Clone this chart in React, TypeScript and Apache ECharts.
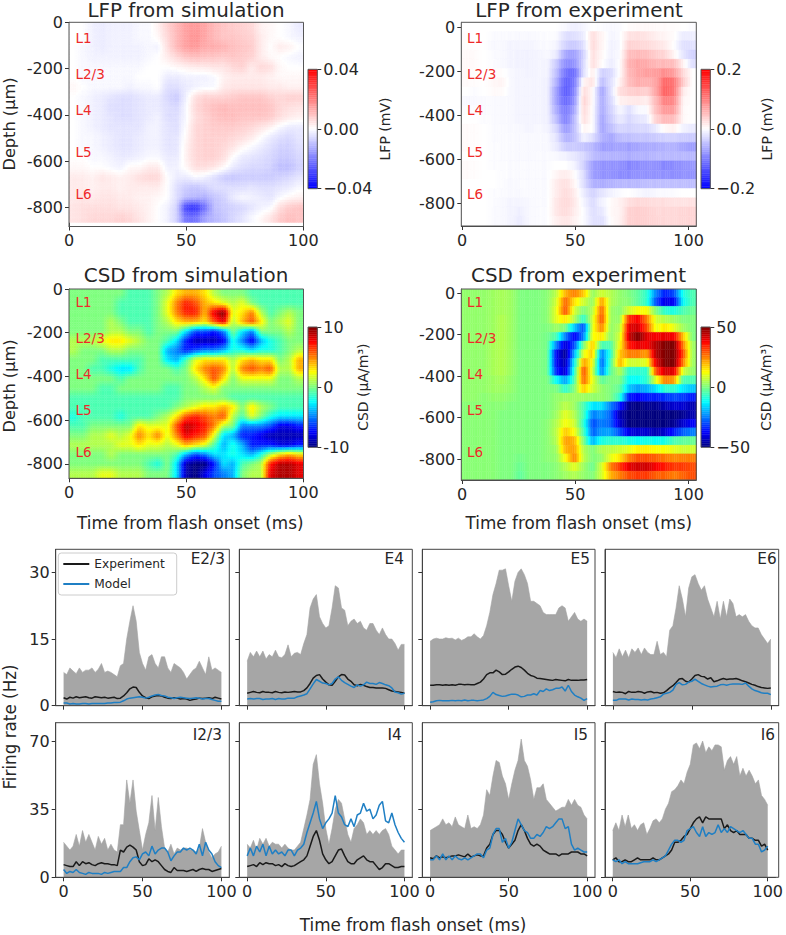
import React, { useEffect, useRef } from "react";
import * as echarts from "echarts";

const FONT = '"DejaVu Sans"';
const INK = "#262626";
const TIME = Array.from({ length: 51 }, (_, i) => i * 2);
const BWR = ["#0000ff", "#ffffff", "#ff0000"];
const JET = ["#00007f", "#0000ff", "#007fff", "#00ffff", "#7fff7f", "#ffff00", "#ff7f00", "#ff0000", "#7f0000"];
const LAYERS = ["L1", "L2/3", "L4", "L5", "L6"];

const lfpSim = [
  [0,0,-2,-3,-2,-2,-2,-1,-1,2,7,11,15,16,14,11,9,8,7,6,2,1,0,-1,-3],
  [0,0,-2,-3,-2,-2,-2,-1,-1,1,6,11,15,17,14,11,9,9,8,7,3,1,0,-1,-2],
  [0,-1,-2,-3,-2,-2,-2,-2,-1,-2,5,11,15,16,13,13,12,10,9,8,3,0,3,2,0],
  [0,-1,-2,-2,-2,-2,-2,-2,-1,0,3,6,9,10,9,9,8,9,8,7,3,1,0,-1,-2],
  [0,-1,-1,-1,-1,-1,-1,-1,0,0,0,1,2,3,3,4,4,6,7,3,6,5,1,0,0],
  [0,-1,-1,-1,-1,-1,-1,0,0,0,-3,-3,-2,-2,-2,-1,2,3,3,3,3,2,1,1,1],
  [1,0,-1,-1,-1,-1,-2,-1,-1,0,-5,-5,-3,-2,-1,-1,3,4,4,4,4,3,3,2,2],
  [0,-1,-2,-3,-4,-5,-5,-4,-3,-3,-6,-8,-2,5,7,7,7,8,9,9,9,7,6,7,7],
  [0,-1,-2,-3,-5,-5,-5,-4,-3,-3,-5,-6,-1,6,8,10,11,10,10,10,10,9,6,5,4],
  [0,-1,-2,-3,-4,-5,-5,-4,-3,-2,-5,-5,-1,5,7,9,10,10,9,9,9,8,5,3,2],
  [0,-1,-2,-3,-4,-4,-4,-4,-2,-2,-4,-5,0,6,7,8,8,8,7,6,4,2,-1,-3,-3],
  [0,-1,-1,-2,-3,-4,-4,-3,-2,-2,-4,-4,1,6,7,7,7,6,5,3,0,-3,-5,-6,-4],
  [0,-1,-1,-2,-3,-4,-4,-3,-2,-2,-4,-4,2,6,7,7,6,4,1,-1,-3,-5,-7,-7,-5],
  [0,0,-1,-1,-2,-3,-3,-2,-1,-1,-3,-3,2,6,7,7,5,0,-3,-4,-5,-6,-8,-8,-6],
  [1,1,0,0,-1,-2,1,1,3,3,-2,-2,1,5,5,4,1,-3,-5,-6,-6,-7,-10,-10,-7],
  [3,3,2,4,3,2,3,5,6,6,0,-3,-3,-1,-2,-5,-8,-9,-8,-8,-8,-8,-7,-6,-4],
  [3,3,2,3,3,2,3,3,3,3,0,-5,-8,-9,-7,-5,-5,-5,-5,-4,-5,-5,-4,-3,-1],
  [3,4,3,4,4,3,3,2,2,1,0,-5,-10,-11,-12,-9,-7,-3,-1,-2,-3,-4,-1,1,2],
  [4,5,5,5,5,4,4,3,2,0,-2,-7,-30,-32,-22,-10,-8,-7,-6,-4,-2,-1,5,8,9],
  [4,5,6,6,6,7,6,4,2,0,-2,-7,-22,-22,-14,-11,-9,-6,-4,-1,1,4,8,10,9],
];

const lfpExp = [
  [0,0,0,0,0,0,0,0,0,0,0,-5,-12,-8,0,-2,-5,-3,2,5,5,4,3,2,0,-2],
  [2,0,0,-3,-3,-3,-5,-5,-3,-2,-3,-25,-25,-15,25,8,-8,-3,22,25,20,12,8,2,-15,-12],
  [2,0,0,-5,-5,-8,-8,-8,-5,-3,-8,-35,-42,-25,28,8,-10,-5,35,32,28,22,15,0,-25,-22],
  [5,3,0,-3,-5,-8,-10,-10,-8,-5,-15,-70,-75,-35,25,5,-10,-3,50,55,50,38,30,8,-20,-35],
  [5,3,0,-2,-5,-8,-10,-10,-8,-8,-40,-90,-85,-30,25,3,-15,0,60,70,65,55,55,50,10,-25],
  [5,2,0,2,2,-5,-8,-10,-8,-8,-50,-110,-115,-25,15,-35,-30,2,55,70,75,75,90,75,30,0],
  [3,2,0,5,8,-5,-8,-8,-8,-10,-60,-125,-105,8,22,-50,-25,10,50,65,60,70,120,105,40,0],
  [0,-3,0,3,3,-5,-8,-8,-8,-10,-75,-130,-95,28,5,-70,-25,25,35,40,35,70,125,105,15,0],
  [-5,-5,-3,-3,-5,-5,-8,-8,-8,-10,-75,-120,-85,35,3,-65,-30,10,15,18,12,55,100,90,8,0],
  [-2,-2,-3,-3,-5,-5,-8,-8,-8,-10,-65,-105,-70,30,0,-65,-35,-5,-25,-5,-3,50,80,75,5,0],
  [0,0,-2,-3,-5,-5,-8,-8,-8,-10,-50,-100,-55,25,0,-70,-40,-15,-30,-20,-15,35,55,50,5,0],
  [3,2,0,-3,-3,-5,-5,-8,-5,-8,-30,-80,-50,8,0,-70,-50,-30,-35,-30,-30,-15,5,10,-10,-15],
  [3,2,0,-3,-3,-3,-5,-5,-5,-5,-20,-60,-50,-10,-25,-60,-70,-50,-50,-45,-45,-40,-35,-35,-40,-40],
  [3,2,0,-2,-3,-3,-5,-5,-5,-5,-15,-40,-40,-45,-55,-75,-75,-70,-75,-70,-65,-65,-60,-60,-70,-75],
  [0,0,0,-2,-3,-3,-5,-5,-3,-3,-5,-10,-18,-30,-50,-60,-60,-60,-65,-60,-60,-55,-55,-55,-55,-55],
  [3,2,0,-2,-2,-3,-3,-3,-3,-3,0,0,-8,-35,-75,-85,-85,-85,-95,-90,-85,-85,-95,-90,-85,-80],
  [3,2,0,0,-2,-3,-3,-3,-3,-3,8,15,2,-25,-75,-85,-85,-90,-90,-85,-85,-85,-85,-90,-85,-85],
  [0,0,0,0,-2,-5,-3,-3,-3,-3,15,25,8,-25,-60,-65,-60,-55,-55,-55,-50,-50,-50,-50,-50,-50],
  [0,0,0,-2,-3,-5,-5,-3,-3,-3,15,28,15,-15,-35,-20,-10,-3,0,-5,-8,-5,-3,-3,0,0],
  [0,0,0,-2,-5,-8,-8,-5,-3,-3,18,30,18,-8,-28,-10,3,10,25,30,28,25,25,22,22,22],
  [0,0,0,-3,-5,-8,-12,-5,-3,-2,18,28,15,-3,-25,-18,5,8,35,38,35,30,30,30,32,32],
  [0,0,0,-3,-5,-8,-15,-5,-3,-2,12,20,10,-3,-22,-25,2,10,35,38,35,32,30,30,32,32],
];

const csdSim = [
  [0,0,0,0,0,0,-1,-1,-1,0,1,3,4,4,3,1,0,0,0,-1,-1,-1,-1,-1,-1],
  [0,0,0,0,0,-1,-1,-1,-1,0,2,5,7,6,4,3,2,1,2,0,-1,-1,-1,-1,-1],
  [0,0,0,0,0,-1,-1,-1,-1,0,2,5,7,7,4,8,10,2,3,5,1,-1,0,1,0],
  [0,0,0,0,1,0,-1,-1,-1,0,1,3,4,4,3,6,8,1,4,6,3,0,1,2,0],
  [0,0,0,0,1,1,0,0,-1,0,0,0,-3,-6,-6,-7,-5,0,-3,-5,0,0,0,1,0],
  [1,1,1,2,3,3,2,1,0,0,-1,-3,-7,-9,-9,-9,-8,-2,-5,-8,-4,-2,-1,0,0],
  [1,0,0,0,1,1,0,0,0,0,-4,-5,-7,-6,-5,-5,-4,-2,-2,-3,-2,-2,-1,0,1],
  [0,0,0,-1,-1,-1,-1,-1,0,0,-3,-4,-1,2,3,3,3,1,3,4,3,3,0,1,4],
  [0,0,-1,-1,-2,-3,-3,-1,0,0,0,-1,0,3,5,6,5,1,5,6,5,6,1,1,4],
  [0,0,0,0,0,-1,0,0,0,0,0,0,0,1,3,6,3,0,2,2,2,2,0,0,1],
  [0,0,0,-1,-1,0,0,0,0,0,-1,-1,0,0,1,2,0,0,0,0,0,0,0,0,0],
  [-1,-1,-1,-1,-1,-1,-1,-1,-1,-1,-1,-1,0,0,0,0,0,-1,-1,-1,-1,-1,-1,-1,-1],
  [-1,-1,-1,-1,-1,-1,-1,-1,-1,-1,-1,0,1,2,3,3,4,3,0,3,1,0,-1,-1,-1],
  [-2,-1,-1,-1,-1,-2,-1,-1,-1,0,1,3,6,7,6,5,6,1,-1,2,0,-2,-3,-3,-3],
  [-1,-1,0,0,0,0,0,3,2,2,2,6,9,8,7,5,1,0,-5,-5,-5,-6,-8,-8,-7],
  [0,0,1,1,2,1,2,5,3,5,2,5,8,7,6,2,-3,-4,-7,-7,-8,-9,-9,-9,-9],
  [1,1,1,1,1,2,2,3,2,2,1,2,4,3,2,-1,-4,-2,-4,-7,-7,-7,-8,-8,-7],
  [0,0,0,0,1,0,0,0,0,0,0,-1,-4,-6,-5,-3,-3,-2,-3,-4,-2,1,3,4,3],
  [0,0,0,0,0,0,0,0,-1,-2,0,-3,-9,-10,-10,-7,-3,-4,-1,0,1,7,9,9,8],
  [1,1,1,2,2,1,1,1,0,0,0,-3,-9,-10,-8,-6,-5,-4,0,1,1,8,9,9,8],
];

const csdExp = [
  [2,2,2,3,4,3,0,0,0,1,6,20,25,18,2,8,5,2,0,-3,-8,-25,-35,-30,-10,-5],
  [2,2,2,3,4,3,0,0,0,1,8,28,15,8,2,22,5,2,1,-3,-8,-30,-40,-38,-12,-5],
  [2,2,2,3,4,3,0,0,0,1,10,30,8,0,5,28,3,1,8,12,12,0,-8,-10,-5,-2],
  [2,2,2,3,5,3,0,0,0,1,10,15,5,-8,8,30,3,2,33,38,25,8,5,3,0,0],
  [2,2,2,3,5,3,0,0,0,0,3,0,-18,-30,10,25,2,5,40,42,30,10,15,10,3,0],
  [2,2,2,3,5,3,0,0,0,-1,-5,-25,-38,-25,12,15,1,8,42,50,40,38,40,38,18,0],
  [2,2,2,4,5,3,0,0,0,-1,-25,-42,-30,0,18,-5,-5,12,35,40,38,45,50,50,25,3],
  [2,2,2,4,5,3,0,0,0,-1,-38,-48,-20,10,18,-25,-8,18,25,25,22,45,50,50,30,3],
  [2,2,2,4,5,3,0,0,0,-1,-38,-45,-12,22,12,-28,-5,20,8,8,10,40,50,50,25,3],
  [2,2,2,4,5,3,0,0,0,-1,-35,-42,-8,30,8,-25,-3,5,-8,-8,-8,30,42,40,8,2],
  [2,2,2,3,4,2,0,0,0,0,-12,-22,-5,28,10,-3,0,0,-12,-12,-8,10,25,22,-5,-5],
  [2,2,2,3,3,2,0,0,0,0,0,-8,0,18,8,2,0,-3,-18,-22,-20,-15,-8,-8,-15,-18],
  [2,2,1,2,2,1,0,0,0,0,2,3,3,3,2,2,0,-8,-35,-38,-35,-35,-33,-30,-32,-35],
  [1,1,1,1,1,0,0,0,0,0,2,6,3,-5,-15,-15,-25,-35,-48,-50,-48,-48,-45,-42,-42,-45],
  [1,1,1,1,0,0,0,0,0,0,3,10,5,-5,-25,-22,-28,-45,-50,-50,-50,-50,-50,-50,-48,-45],
  [1,1,1,1,0,0,0,0,0,1,5,12,8,-8,-30,-25,-28,-42,-50,-50,-50,-50,-50,-48,-42,-38],
  [1,1,1,1,0,0,0,0,0,1,6,18,12,-5,-28,-22,-22,-30,-40,-42,-42,-45,-42,-35,-28,-25],
  [1,1,1,1,0,0,0,0,0,1,5,22,20,0,-20,-10,-8,-8,-10,-12,-10,-12,-10,-5,-3,-2],
  [1,1,1,1,0,0,0,0,0,1,3,20,22,5,0,5,6,8,10,14,14,12,12,10,8,8],
  [1,1,1,1,0,0,-1,0,0,1,2,12,25,6,0,2,10,15,25,30,30,28,26,24,25,25],
  [1,1,1,1,0,0,-2,0,0,0,1,5,10,3,-2,8,25,32,40,42,42,38,35,32,32,30],
  [1,1,1,1,0,0,-3,0,0,0,1,3,5,2,0,8,20,25,30,32,32,28,28,25,28,30],
];

const e23Band = [7.5,7,8.5,7.8,7.2,8.5,7.5,8,8,8.5,7.5,8.2,9.5,7.5,7.8,7.5,7,6.5,9,9.5,15,19,22.5,19,12,9.5,8,11,11.5,9.5,8.5,11,11,8.5,7.5,9.5,9,8.5,7.5,6,7,8,8.5,10,8.5,7,11,8,8.5,8,7.5];
const e23Exp = [1.8,1.5,1.9,1.7,2,1.8,1.9,2,1.8,1.7,2,1.9,1.8,1.9,1.7,1.8,1.9,1.6,1.7,2.2,2.9,3.8,4.2,4.1,3,2.2,1.8,1.6,2,2.2,2.3,2.2,1.9,1.7,1.6,1.8,1.7,1.5,1.6,1.5,1.2,1.4,1.5,1.7,1.6,1.7,1.8,1.6,1.9,1.7,1.5];
const e23Model = [.6,.6,.4,.5,.4,.4,.5,.5,.4,.5,.5,.5,.5,.5,.6,.6,.7,.7,.8,1.1,1.5,1.7,1.8,1.9,2,1.9,1.7,1.9,2.2,2.4,2.5,2.3,2.2,1.9,1.8,1.6,1.8,1.9,1.8,1.7,1.6,1.7,1.8,1.7,1.5,1.6,1.6,1.4,1.2,1,1];
const e4Band = [10,12,11,12.3,11,12.3,10.5,11.5,11,12.5,11,10.8,11.5,13.7,11,11.8,12,11.5,14,16,22,24,25,20,18.5,17.5,18,22,27,26.5,22,21.5,18,19,19.5,18.5,19,17.5,17,18.5,18.5,17,16,17.5,16,15,15,14,12.5,13.8,13.8];
const e4Exp = [2.8,3,3.2,3,2.9,3.2,3,3,2.9,3.2,3,2.9,3.1,3,3.1,3.2,3.1,3.1,3.4,4,5,6.2,6.8,7,6,5.3,4.7,4.6,5.5,6.5,7,6.9,6,5.5,4.7,4.5,4.8,4.6,4.3,4.1,4.1,4,4,4,3.9,3.6,3.3,3.2,3.1,3,2.8];
const e4Model = [1.5,1.6,1.5,1.6,1.6,1.4,1.5,1.5,1.6,1.4,1.6,1.5,1.5,1.7,1.7,1.7,2,2.2,2.4,2.7,3.8,4.9,5.9,5.5,5.1,5,4.7,5,6,6.5,5.7,5.2,4.8,4.4,4.1,4.7,4.4,4.7,5.3,5,5,4.8,5.2,5,4.7,4.5,4,3.1,2.9,2.6,2.8];
const e5Band = [14.5,15,15.2,15,15,15.3,15.1,15.2,14.8,15.2,14.7,15,15.5,15.5,16.2,15.5,15,15.8,18,21,25,27.5,30.5,30.5,30.8,27,23.5,28,30,30.8,29.5,27.5,23.5,23.5,23,22.5,21,20.5,20.5,20.5,20.5,22,22.5,22,19,20,21,19.5,19,19.5,19];
const e5Exp = [4.6,4.6,4.7,4.7,4.6,4.7,4.6,4.7,4.6,4.8,4.8,4.7,4.8,4.7,4.7,5,5.3,6,7,7.4,7.4,8,7.6,7,7.1,7.6,8.2,8.7,8.9,8.6,8,7.3,6.8,6.6,6.2,6.1,6,5.9,5.8,5.7,5.9,5.8,5.7,5.6,5.9,5.7,5.7,5.7,5.8,5.8,5.9];
const e5Model = [.8,.9,1.1,1.2,1.1,1.1,1.1,1.2,1.1,1.2,1.1,1.3,1.1,1.2,1.2,1.1,1.2,1.3,1.6,2.1,3,2.5,2.3,2.1,2.2,2.4,2.6,2.6,2.4,2,2.1,2.4,2.4,2.7,2.4,3.4,3.2,3.8,3.4,3.6,3.9,3.9,4.2,3.3,4.6,3.2,2.4,2,1.7,1.2,1.6];
const e6Band = [12,10.8,12.8,11,12.5,10.8,12.8,12,13,11.5,13,12,11.5,11.5,14.5,11.5,12,11,17,18,22,27,24,20,26.5,29,29.5,27.5,26,27,24,22,20,23.5,19.5,23.5,20,24,23,20,20.5,20,20.5,19,18,17.5,17.5,16,15,14,15];
const e6Exp = [3.2,3,3.1,3,2.7,3.2,3,3,3.2,3.1,2.8,3.1,3.2,2.9,3,2.8,2.9,3.4,4,4.5,5.2,6,6.1,5.5,5.3,6,6.8,7,6.6,6.5,6,6.3,5.4,5.6,5.9,6.1,5.9,6,6,6.1,5.9,5.6,5.4,5.1,4.8,4.6,4.3,4.1,4,3.9,4];
const e6Model = [1.2,1.2,1.5,1.5,1.5,1.3,1.5,1.4,1.4,1.3,1.4,1.3,1.5,1.6,1.8,2,2.6,2.8,3,3.5,4.8,5.2,4.7,4.8,5.3,5.5,6,5.5,5,4.7,4.4,4.2,4.3,4.4,4.7,4.8,4.6,4.8,4.9,4.9,4.9,4.8,5.1,4.4,3.8,3.4,3.2,2.9,2.8,2.8,2.5];
const i23Band = [18,16,14,16,22,16,24,18,22,18,14,21,17,20,14,17,14,13,27,27,50,38,50,34,24,14,22,28,42,24,41,26,15,13,17,12,15,14,15,15,14,14,13,15,25,18,13,10,12,13,16];
const i23Exp = [6.5,6,5.5,5.5,8,6,8,7,7.5,6.5,6,7,7.5,7,7,6.5,6.5,6,14,13,15.5,16.5,15.5,14,8,6,6.5,9.5,8,9,8,6,4,3,2.5,5,3.5,3.5,3.5,3,3.5,4,3,4,4.5,4,4,3,3.5,4,4.5];
const i23Model = [4,2,3,2.5,4,2.5,2,1.5,2.5,2,2,2,1.5,2.5,2,2.5,3,3,3,5,5,8,10,10.5,9,12,13,11,16,12,14,15,15,13,8.5,11,13,13,15,14,15,14,12,17,11,18,14,12,8,6,5];
const i4Band = [17,15,19,14,20,17,20,16,18,17,17,15,17,15,14,14,16,18,25,32,40,58,63,48,38,25,17,25,35,40,38,30,22,18,25,27,30,28,22,24,22,24,22,24,25,22,16,14,12,14,14];
const i4Exp = [5.5,6,6.5,5.5,7.5,6.5,7.5,7,7,6,6.5,5.5,7,6,5.5,6,7,8,9,11,16,21,24,19,12,9,7,8,11,14,14.5,11,8,7,7,9,10,11,9,8,8,6,4,5,7,7,6,5,5,5.5,5.5];
const i4Model = [11,15,11,16,13,17,11,16,12,14,12,13,11,14,14,11,14,15,17,23,28,33,39,30,25,28,30,33,42,33,31,27,26,30,26,32,33,38,34,35,30,32,37,39,29,28,33,27,23,20,18];
const i5Band = [24,25,26,27,30,27,28,26,31,27,26,25,32,25,26,25,27,32,45,42,52,60,59,52,48,40,48,55,60,71,60,57,50,40,46,46,48,40,38,36,34,35,36,36,40,37,40,37,36,32,30];
const i5Exp = [10,9.5,11,10,10.5,10,10.5,11,11,11.5,11,10.5,12,10.5,11,11.5,11,11,15,17,22,24,24,22,18,15,17,19,24,27,24,20,17,16,17,16,14,13,12,12,12,11,12,12,12,13,13,13,12,12,11];
const i5Model = [9,9,11,9,12,9,11,9,11,9.5,9,10,9,10,11,12,12,10,14,15,22,25,25,18,20,15,18,24,30,27,24,23,20,20,22,21,23,26,25,26,28,30,30,25,26,17,14,15,14,13,13];
const i6Band = [24,28,24,32,26,32,25,27,24,27,28,22,25,29,30,28,30,35,38,44,45,47,50,48,54,58,68,69,66,70,64,67,65,68,68,67,55,60,62,58,62,52,56,52,55,52,48,50,42,40,37];
const i6Exp = [9,10,8,8,9,8,8,9,10,9,9,9,9,10,9,9,10,11,12,14,18,18,19,21,22,25,28,30,31,28,31,30,30,30,30,30,25,27,24,23,24,22,22,22,20,20,19,19,16,17,14];
const i6Model = [9,8,9,7,8,7,7,7,7,7.5,8,8,8,9,8,9,10,11,14,17,19,19,18,19,24,25,26,23,21,26,21,23,22,23,27,23,25,23,26,25,24,23,24,22,20,20,17,17,13,14,16];

const heatPanels = [
  { title: "LFP from simulation", cx: 186, ty: 0, matrix: lfpSim, vmax: 40, colors: BWR, nx: 4, ny: 4, box: [69, 22.3, 234.5, 204.2], xMin: -0.05, xMax: 100.05, yMin: -883, yMax: 0, x0: 0, dx: 4, yTop: 0, dy: 43.3, yLabel: "Depth (μm)", yLabelY: 124, xLabel: "", xGap: 36, xPad: 0, layerX: 75.5, layerY: [38, 74, 110, 152, 194], cbBox: [308, 69.3, 9.3, 119.4], cbRange: 0.04, cbTicks: [-0.04, 0, 0.04], cbFmt: (v: number) => (v === 0 ? "0.00" : v < 0 ? "−0.04" : "0.04"), cbName: "LFP (mV)", cbGap: 61 },
  { title: "LFP from experiment", cx: 579, ty: 0, matrix: lfpExp, vmax: 200, colors: BWR, nx: 4, ny: 1, box: [461.3, 22.3, 235, 203.7], xMin: -0.3, xMax: 103.4, yMin: -902, yMax: 24, x0: -0.3, dx: 4, yTop: 24, dy: 42, yLabel: "", yLabelY: 0, xLabel: "", xGap: 36, xPad: 0, layerX: 467, layerY: [38, 74, 110, 152, 194], cbBox: [701, 69.3, 9.3, 119.4], cbRange: 0.2, cbTicks: [-0.2, 0, 0.2], cbFmt: (v: number) => (v === 0 ? "0.0" : v < 0 ? "−0.2" : "0.2"), cbName: "LFP (mV)", cbGap: 50 },
  { title: "CSD from simulation", cx: 186, ty: 265, matrix: csdSim, vmax: 10, colors: JET, nx: 4, ny: 4, box: [69, 289, 234.5, 189.3], xMin: -0.05, xMax: 100.05, yMin: -866, yMax: 0, x0: 0, dx: 4, yTop: 0, dy: 43.3, yLabel: "Depth (μm)", yLabelY: 386, xLabel: "Time from flash onset (ms)", xGap: 36, xPad: 8, layerX: 75.5, layerY: [302, 338, 374, 410, 452], cbBox: [308, 327, 9.3, 120.3], cbRange: 10, cbTicks: [-10, 0, 10], cbFmt: (v: number) => String(v), cbName: "CSD (μA/m³)", cbGap: 39 },
  { title: "CSD from experiment", cx: 578.5, ty: 265, matrix: csdExp, vmax: 50, colors: JET, nx: 4, ny: 1, box: [461.3, 289, 235, 191], xMin: -0.3, xMax: 103.4, yMin: -900, yMax: 20, x0: -0.3, dx: 4, yTop: 20, dy: 41.8, yLabel: "", yLabelY: 0, xLabel: "Time from flash onset (ms)", xGap: 34, xPad: 0, layerX: 467, layerY: [302, 338, 374, 410, 452], cbBox: [701, 327, 9.3, 120.3], cbRange: 50, cbTicks: [-50, 0, 50], cbFmt: (v: number) => (v < 0 ? "−50" : String(v)), cbName: "CSD (μA/m³)", cbGap: 49 },
];

const COLUMNS = [[55.7, 173.6], [239.3, 173], [422.3, 172.7], [605, 173.7]];
const ROWS = [{ top: 549.3, h: 156.4, yMax: 35.2, ticks: [0, 15, 30] }, { top: 722.7, h: 154.6, yMax: 79.4, ticks: [0, 35, 70] }];

const ratePanels = [
  { label: "E2/3", col: 0, row: 0, labelRight: 225, band: e23Band, exp: e23Exp, model: e23Model },
  { label: "E4", col: 1, row: 0, labelRight: 404, band: e4Band, exp: e4Exp, model: e4Model },
  { label: "E5", col: 2, row: 0, labelRight: 590, band: e5Band, exp: e5Exp, model: e5Model },
  { label: "E6", col: 3, row: 0, labelRight: 776.7, band: e6Band, exp: e6Exp, model: e6Model },
  { label: "I2/3", col: 0, row: 1, labelRight: 222, band: i23Band, exp: i23Exp, model: i23Model },
  { label: "I4", col: 1, row: 1, labelRight: 401.7, band: i4Band, exp: i4Exp, model: i4Model },
  { label: "I5", col: 2, row: 1, labelRight: 588, band: i5Band, exp: i5Exp, model: i5Model },
  { label: "I6", col: 3, row: 1, labelRight: 775, band: i6Band, exp: i6Exp, model: i6Model },
];

// Draws a matrix of values like imshow: each read value is a cell, shaded towards its neighbours.
function cellSeries(matrix: number[][], x0: number, dx: number, yTop: number, dy: number, vmax: number, colors: string[], nx: number, ny: number, g: number) {
  const rows = matrix.length, cols = matrix[0].length;
  const data: number[][] = [];
  matrix.forEach((row, r) => row.forEach((v, c) => data.push([x0 + c * dx, yTop - r * dy, v])));
  const sample = (fr: number, fc: number) => {
    const r = Math.max(0, Math.min(rows - 1, fr)), c = Math.max(0, Math.min(cols - 1, fc));
    const r0 = Math.floor(r), c0 = Math.floor(c);
    const r1 = Math.min(rows - 1, r0 + 1), c1 = Math.min(cols - 1, c0 + 1);
    const u = c - c0, w = r - r0;
    const top = matrix[r0][c0] * (1 - u) + matrix[r0][c1] * u;
    const bot = matrix[r1][c0] * (1 - u) + matrix[r1][c1] * u;
    return top * (1 - w) + bot * w;
  };
  const colorAt = (v: number) => echarts.color.lerp(Math.max(0, Math.min(1, (v / vmax + 1) / 2)), colors) as string;
  return {
    type: "custom",
    coordinateSystem: "cartesian2d",
    xAxisIndex: g,
    yAxisIndex: g,
    clip: true,
    silent: true,
    z: 2,
    dimensions: ["x", "y", "v"],
    encode: { x: 0, y: 1 },
    data,
    renderItem: (params: any, api: any) => {
      const i = params.dataIndex;
      const r = Math.floor(i / cols), c = i % cols;
      const a = api.coord([api.value(0), api.value(1)]);
      const b = api.coord([api.value(0) + dx, api.value(1) - dy]);
      const w = (b[0] - a[0]) / nx, h = (b[1] - a[1]) / ny;
      const children: any[] = [];
      for (let iy = 0; iy < ny; iy++) {
        for (let ix = 0; ix < nx; ix++) {
          const fc = nx === 1 ? c : c + (ix + 0.5) / nx - 0.5;
          const fr = ny === 1 ? r : r + (iy + 0.5) / ny - 0.5;
          const col = colorAt(sample(fr, fc));
          children.push({
            type: "rect",
            shape: { x: a[0] + ix * w, y: a[1] + iy * h, width: w, height: h },
            style: { fill: col, stroke: col, lineWidth: 0.4 },
          });
        }
      }
      return { type: "group", children };
    },
  };
}

function buildOption() {
  const grid: any[] = [], xAxis: any[] = [], yAxis: any[] = [], series: any[] = [], graphic: any[] = [], title: any[] = [];
  const tick = { show: true, length: 4, lineStyle: { color: "#333", width: 1 } };
  const line = { show: true, onZero: false, lineStyle: { color: "#444", width: 1 } };
  const lab = { color: INK, fontFamily: FONT, fontSize: 16, margin: 6 };
  const xLab = { ...lab, alignMinLabel: "center", alignMaxLabel: "center" };
  const nameStyle = { color: INK, fontFamily: FONT, fontSize: 16.8 };
  const frame = (b: number[], color: string) =>
    graphic.push({ type: "rect", z: 50, silent: true, shape: { x: b[0], y: b[1], width: b[2], height: b[3] }, style: { fill: "none", stroke: color, lineWidth: 1 } });
  const vertical = (text: string, x: number, y: number, size: number) =>
    graphic.push({ type: "text", z: 60, silent: true, rotation: Math.PI / 2, x, y, style: { text, x: 0, y: 0, fill: INK, font: `${size}px ${FONT}`, align: "center", textAlign: "center", verticalAlign: "middle", textVerticalAlign: "middle" } });

  heatPanels.forEach((p) => {
    title.push({ text: p.title, left: p.cx, top: p.ty, textAlign: "center", padding: 0, textStyle: { color: INK, fontFamily: FONT, fontSize: 19.9, fontWeight: "normal" } });
    const g = grid.length;
    grid.push({ left: p.box[0], top: p.box[1], width: p.box[2], height: p.box[3] });
    const xv = [0, 50, 100];
    const yv = [0, -200, -400, -600, -800];
    xAxis.push({
      gridIndex: g, type: "value", min: p.xMin, max: p.xMax, splitLine: { show: false }, axisLine: line,
      axisTick: { ...tick, customValues: xv }, axisLabel: { ...xLab, customValues: xv },
      name: p.xLabel, nameLocation: "middle", nameGap: p.xGap, nameTextStyle: { ...nameStyle, padding: [0, 0, 0, p.xPad] },
    });
    yAxis.push({
      gridIndex: g, type: "value", min: p.yMin, max: p.yMax, splitLine: { show: false }, axisLine: line,
      axisTick: { ...tick, customValues: yv }, axisLabel: { ...lab, customValues: yv },
    });
    if (p.yLabel) vertical(p.yLabel, 9.5, p.yLabelY, 16.2);
    series.push(cellSeries(p.matrix, p.x0, p.dx, p.yTop, p.dy, p.vmax, p.colors, p.nx, p.ny, g));
    frame(p.box, "#555");
    LAYERS.forEach((name, i) =>
      graphic.push({ type: "text", z: 60, silent: true, style: { text: name, x: p.layerX, y: p.layerY[i], fill: "#ee2a2a", font: `13.5px ${FONT}`, verticalAlign: "middle", textVerticalAlign: "middle" } })
    );
    // colour bar: a small grid of its own, with a real axis
    const cb = grid.length;
    grid.push({ left: p.cbBox[0], top: p.cbBox[1], width: p.cbBox[2], height: p.cbBox[3] });
    xAxis.push({ gridIndex: cb, type: "value", min: 0, max: 1, show: false });
    yAxis.push({
      gridIndex: cb, type: "value", position: "right", min: -p.cbRange, max: p.cbRange, splitLine: { show: false },
      axisLine: { show: false, onZero: false },
      axisTick: { ...tick, customValues: p.cbTicks }, axisLabel: { ...lab, customValues: p.cbTicks, formatter: p.cbFmt },
      name: p.cbName, nameLocation: "middle", nameRotate: 90, nameGap: p.cbGap, nameTextStyle: { ...nameStyle, fontSize: 14 },
    });
    const steps = 64, d = (2 * p.cbRange) / steps;
    const levels = Array.from({ length: steps }, (_, i) => [p.cbRange - (i + 0.5) * d]);
    series.push(cellSeries(levels, 0, 1, p.cbRange, d, p.cbRange, p.colors, 1, 1, cb));
    frame(p.cbBox, "#555");
  });

  ratePanels.forEach((p) => {
    const g = grid.length;
    const [left, width] = COLUMNS[p.col];
    const row = ROWS[p.row];
    const box = [left, row.top, width, row.h];
    grid.push({ left, top: row.top, width, height: row.h });
    const xv = [0, 50, 100];
    xAxis.push({
      gridIndex: g, type: "value", min: -5, max: 105, splitLine: { show: false }, axisLine: line,
      axisTick: { ...tick, customValues: xv },
      axisLabel: p.row === 1 ? { ...xLab, customValues: xv } : { show: false },
    });
    yAxis.push({
      gridIndex: g, type: "value", min: 0, max: row.yMax, splitLine: { show: false }, axisLine: line,
      axisTick: { ...tick, customValues: row.ticks },
      axisLabel: p.col === 0 ? { ...lab, customValues: row.ticks } : { show: false },
    });
    const pts = (vals: number[]) => vals.map((v, i) => [TIME[i], v]);
    series.push({ type: "line", name: "Range", xAxisIndex: g, yAxisIndex: g, data: pts(p.band), symbol: "none", silent: true, z: 1, lineStyle: { color: "#a3a3a3", width: 0.6 }, areaStyle: { color: "#a6a6a6", opacity: 1, origin: "start" } });
    series.push({ type: "line", name: "Experiment", xAxisIndex: g, yAxisIndex: g, data: pts(p.exp), symbol: "none", silent: true, z: 3, lineStyle: { color: "#1a1a1a", width: 1.5 }, itemStyle: { color: "#1a1a1a" } });
    series.push({ type: "line", name: "Model", xAxisIndex: g, yAxisIndex: g, data: pts(p.model), symbol: "none", silent: true, z: 4, lineStyle: { color: "#1f7fc4", width: 1.5 }, itemStyle: { color: "#1f7fc4" } });
    frame(box, "#444");
    graphic.push({ type: "text", z: 60, silent: true, style: { text: p.label, x: p.labelRight, y: row.top + (p.row === 0 ? 10 : 12), fill: INK, font: `15.3px ${FONT}`, textAlign: "right", align: "right", verticalAlign: "middle", textVerticalAlign: "middle" } });
  });

  graphic.push({ type: "text", z: 60, silent: true, style: { text: "Time from flash onset (ms)", x: 413, y: 925, fill: INK, font: `16.8px ${FONT}`, align: "center", textAlign: "center", verticalAlign: "middle", textVerticalAlign: "middle" } });
  vertical("Firing rate (Hz)", 10, 727, 16.8);

  return {
    animation: false,
    backgroundColor: "#ffffff",
    textStyle: { fontFamily: FONT },
    title,
    grid,
    xAxis,
    yAxis,
    series,
    graphic,
    legend: {
      data: ["Experiment", "Model"], orient: "vertical", left: 58.3, top: 553, itemWidth: 26, itemHeight: 2, itemGap: 8, selectedMode: false,
      padding: [5, 12, 5, 4], backgroundColor: "#fff", borderColor: "#ccc", borderWidth: 1, borderRadius: 3,
      textStyle: { color: INK, fontFamily: FONT, fontSize: 12.2 }, z: 40,
    },
  };
}

export default function App() {
  const ref = useRef<HTMLDivElement>(null);
  useEffect(() => {
    document.body.style.margin = "0";
    const chart = echarts.init(ref.current!, undefined, { renderer: "svg" });
    chart.setOption(buildOption() as any);
    return () => chart.dispose();
  }, []);
  return <div ref={ref} style={{ width: 786, height: 935 }} />;
}
